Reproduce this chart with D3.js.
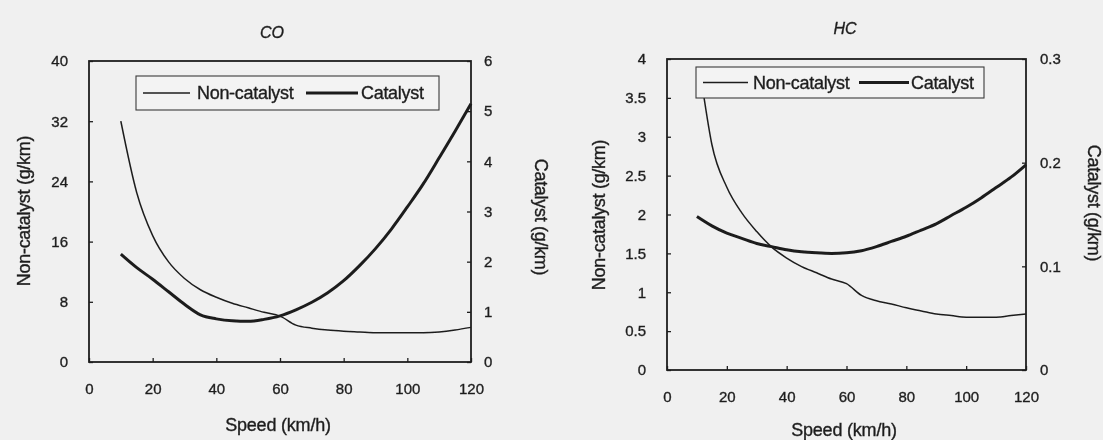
<!DOCTYPE html>
<html>
<head>
<meta charset="utf-8">
<script src="https://cdn.jsdelivr.net/npm/d3@7"></script>
<style>
  html, body { margin: 0; padding: 0; background: #f0f0f0; }
  svg { display: block; }
  text { font-family: "Liberation Sans", Arial, Helvetica, sans-serif; fill: #1e1e1e; }
</style>
</head>
<body>
<svg id="chart" width="1103" height="440"></svg>
<script>
// ---- CO emission factors vs speed ----
const coSpeed = [10, 15, 20, 25, 30, 35, 40, 45, 50, 55, 60, 65, 70, 75, 80, 85, 90, 95, 100, 105, 110, 115, 120];
const coNonCatalyst = [32, 22.5, 16.8, 13.3, 11.1, 9.6, 8.6, 7.8, 7.2, 6.6, 6.1, 4.9, 4.5, 4.25, 4.1, 4.0, 3.9, 3.9, 3.9, 3.9, 4.0, 4.25, 4.6];
const coCatalyst = [2.15, 1.88, 1.65, 1.4, 1.15, 0.94, 0.86, 0.82, 0.81, 0.85, 0.92, 1.04, 1.19, 1.38, 1.62, 1.92, 2.26, 2.65, 3.09, 3.55, 4.07, 4.6, 5.15];

// ---- HC emission factors vs speed ----
const hcSpeedNon = [12, 15, 20, 25, 30, 35, 40, 45, 50, 55, 60, 65, 70, 75, 80, 85, 90, 95, 100, 105, 110, 115, 120];
const hcNonCatalyst = [3.6, 2.9, 2.35, 2.02, 1.78, 1.58, 1.44, 1.33, 1.25, 1.17, 1.11, 0.96, 0.89, 0.85, 0.80, 0.76, 0.72, 0.70, 0.68, 0.68, 0.68, 0.70, 0.72];
const hcSpeedCat = [10, 15, 20, 25, 30, 35, 40, 45, 50, 55, 60, 65, 70, 75, 80, 85, 90, 95, 100, 105, 110, 115, 120];
const hcCatalyst = [0.148, 0.139, 0.132, 0.127, 0.122, 0.119, 0.116, 0.114, 0.113, 0.1125, 0.113, 0.115, 0.119, 0.124, 0.129, 0.135, 0.141, 0.149, 0.157, 0.166, 0.176, 0.186, 0.198];

// ---- axis ticks ----
const speedTicks = [0, 20, 40, 60, 80, 100, 120];
const coLeftTicks = [0, 8, 16, 24, 32, 40];
const coRightTicks = [0, 1, 2, 3, 4, 5, 6];
const hcLeftTicks = [0, 0.5, 1, 1.5, 2, 2.5, 3, 3.5, 4];
const hcRightTicks = [0, 0.1, 0.2, 0.3];

const seriesNames = ["Non-catalyst", "Catalyst"];

const svg = d3.select("#chart");
const ink = "#1e1e1e";

// soft print look
svg.append("defs").append("filter").attr("id", "soft")
  .append("feGaussianBlur").attr("stdDeviation", 0.45);
const root = svg.append("g").attr("filter", "url(#soft)");

function heavy(sel) {
  // slightly heavier glyphs, like ink on paper
  return sel.attr("stroke", ink).attr("stroke-width", 0.35).attr("paint-order", "stroke");
}

function drawPanel(p) {
  const g = root.append("g");
  const x = d3.scaleLinear().domain([0, 120]).range([p.left, p.right]);
  const yL = d3.scaleLinear().domain(p.leftDomain).range([p.bottom, p.top]);
  const yR = d3.scaleLinear().domain(p.rightDomain).range([p.bottom, p.top]);

  const lineL = d3.line().x(d => x(d[0])).y(d => yL(d[1])).curve(d3.curveMonotoneX);
  const lineR = d3.line().x(d => x(d[0])).y(d => yR(d[1])).curve(d3.curveMonotoneX);

  g.append("path")
    .datum(d3.zip(p.nonSpeed, p.nonVals))
    .attr("d", lineL)
    .attr("fill", "none").attr("stroke", ink).attr("stroke-width", 1.5);
  g.append("path")
    .datum(d3.zip(p.catSpeed, p.catVals))
    .attr("d", lineR)
    .attr("fill", "none").attr("stroke", ink).attr("stroke-width", 3);

  // axes with inward ticks
  const axL = d3.axisLeft(yL).tickValues(p.leftTicks).tickSize(-4).tickPadding(p.padL).tickFormat(d3.format("~g"));
  const axR = d3.axisRight(yR).tickValues(p.rightTicks).tickSize(-4).tickPadding(p.padR).tickFormat(d3.format("~g"));
  const axB = d3.axisBottom(x).tickValues(speedTicks).tickSize(-4).tickPadding(p.padB).tickFormat(d3.format("~g"));

  [[axL, `translate(${p.left},0)`], [axR, `translate(${p.right},0)`], [axB, `translate(0,${p.bottom})`]]
    .forEach(([ax, tr]) => {
      const a = g.append("g").attr("transform", tr).call(ax);
      a.select(".domain").remove();
      a.selectAll("line").attr("stroke", ink).attr("stroke-width", 1.3);
      heavy(a.selectAll("text").attr("font-size", 15).attr("fill", ink).style("font-family", null));
    });

  // frame
  g.append("rect")
    .attr("x", p.left).attr("y", p.top)
    .attr("width", p.right - p.left).attr("height", p.bottom - p.top)
    .attr("fill", "none").attr("stroke", ink).attr("stroke-width", 1.8);

  // legend
  const lg = g.append("g");
  lg.append("rect")
    .attr("x", p.legend.x0).attr("y", p.legend.y0)
    .attr("width", p.legend.x1 - p.legend.x0).attr("height", p.legend.y1 - p.legend.y0)
    .attr("fill", "#f3f3f3").attr("stroke", "#3a3a3a").attr("stroke-width", 1.1);
  const ly = (p.legend.y0 + p.legend.y1) / 2;
  p.legend.items.forEach((it, i) => {
    lg.append("line")
      .attr("x1", it.l0).attr("x2", it.l1).attr("y1", ly).attr("y2", ly)
      .attr("stroke", ink).attr("stroke-width", i === 0 ? 1.5 : 3);
    heavy(lg.append("text")
      .attr("x", it.t).attr("y", ly).attr("dy", "0.35em")
      .attr("font-size", 18).attr("letter-spacing", -0.3)
      .text(seriesNames[i]));
  });

  // titles
  heavy(g.append("text").attr("x", p.title[0]).attr("y", p.title[1]).attr("dy", "0.35em")
    .attr("text-anchor", "middle").attr("font-size", 16).attr("font-style", "italic")
    .text(p.name));
  heavy(g.append("text").attr("x", p.xTitle[0]).attr("y", p.xTitle[1]).attr("dy", "0.35em")
    .attr("text-anchor", "middle").attr("font-size", 18).attr("letter-spacing", -0.2)
    .text("Speed (km/h)"));
  heavy(g.append("text")
    .attr("transform", `translate(${p.yLTitle[0]},${p.yLTitle[1]}) rotate(-90)`)
    .attr("dy", "0.35em").attr("text-anchor", "middle").attr("font-size", 18).attr("letter-spacing", -0.3)
    .text("Non-catalyst (g/km)"));
  heavy(g.append("text")
    .attr("transform", `translate(${p.yRTitle[0]},${p.yRTitle[1]}) rotate(90)`)
    .attr("dy", "0.35em").attr("text-anchor", "middle").attr("font-size", 18).attr("letter-spacing", -0.3)
    .text("Catalyst (g/km)"));
}

drawPanel({
  name: "CO",
  left: 89, right: 471, top: 61, bottom: 362,
  leftDomain: [0, 40], rightDomain: [0, 6],
  leftTicks: coLeftTicks, rightTicks: coRightTicks,
  padL: 21, padR: 13, padB: 21,
  nonSpeed: coSpeed, nonVals: coNonCatalyst,
  catSpeed: coSpeed, catVals: coCatalyst,
  legend: { x0: 136, x1: 439, y0: 76, y1: 110,
            items: [{ l0: 143, l1: 190, t: 197 }, { l0: 306, l1: 358, t: 361 }] },
  title: [272, 32], xTitle: [278, 425], yLTitle: [24, 211], yRTitle: [541, 217]
});

drawPanel({
  name: "HC",
  left: 667, right: 1026, top: 59, bottom: 370,
  leftDomain: [0, 4], rightDomain: [0, 0.3],
  leftTicks: hcLeftTicks, rightTicks: hcRightTicks,
  padL: 21, padR: 14, padB: 21,
  nonSpeed: hcSpeedNon, nonVals: hcNonCatalyst,
  catSpeed: hcSpeedCat, catVals: hcCatalyst,
  legend: { x0: 696, x1: 984, y0: 67, y1: 98,
            items: [{ l0: 703, l1: 748, t: 753 }, { l0: 859, l1: 909, t: 911 }] },
  title: [845, 28], xTitle: [844, 430], yLTitle: [599, 215], yRTitle: [1094, 203]
});
</script>
</body>
</html>
